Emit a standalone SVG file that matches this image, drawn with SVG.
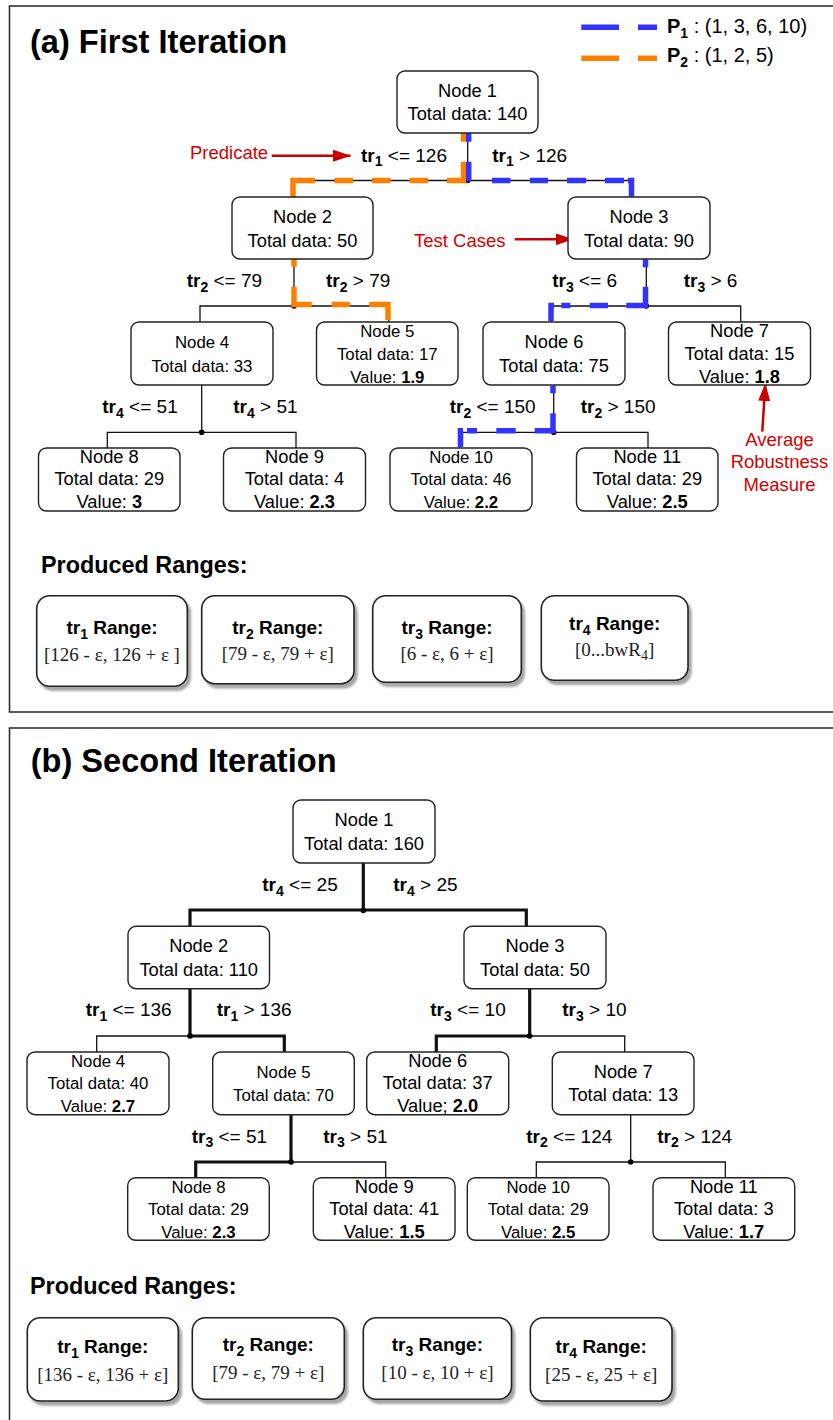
<svg xmlns="http://www.w3.org/2000/svg" width="833" height="1420" viewBox="0 0 833 1420">
  <style>
    .frame { fill: none; stroke: #333; stroke-width: 1.6; }
    .box { fill: #fff; stroke: #222; stroke-width: 1.4; }
    .rbox { fill: #fff; stroke: #222; stroke-width: 1.6; filter: url(#shadow); }
    text { font-family: "Liberation Sans", Arial, Helvetica, sans-serif; fill: #000; }
    .title { font-size: 32.6px; font-weight: bold; }
    .head { font-size: 23.4px; font-weight: bold; }
    .nt { font-size: 18.3px; text-anchor: middle; }
    .sm .nt { font-size: 16.8px; }
    .b { font-weight: bold; }
    .lbl { font-size: 19px; }
    .sub { font-size: 14px; font-weight: bold; }
    .rt { font-size: 19px; font-weight: bold; text-anchor: middle; }
    .rv { font-family: "Liberation Serif", "Times New Roman", serif; font-size: 19px; text-anchor: middle; fill: #222; }
    .rsub { font-size: 14px; }
    .red { font-size: 18.5px; fill: #d40000; }
    .leg { font-size: 20px; }
    .edge { fill: none; stroke: #111; stroke-width: 1.3; }
    .thick { stroke-width: 3.2; }
    .p1 { fill: none; stroke: #3333ff; stroke-width: 5.5; }
    .p2 { fill: none; stroke: #ff8000; stroke-width: 5.5; }
    .dot { fill: #000; }
    .ann { stroke: #c80000; stroke-width: 2.5; fill: none; marker-end: url(#redhead); }
  </style>
  <defs>
    <marker id="redhead" markerUnits="userSpaceOnUse" markerWidth="18" markerHeight="12" refX="17.5" refY="6" orient="auto">
      <path d="M0,0 L18,6 L0,12 z" fill="#c80000"/>
    </marker>
    <filter id="shadow" x="-10%" y="-10%" width="130%" height="135%">
      <feDropShadow dx="3" dy="4" stdDeviation="1.3" flood-color="#000" flood-opacity="0.35"/>
    </filter>
  </defs>

  <rect width="833" height="1420" fill="#fff"/>

  <!-- ===================== (a) First Iteration ===================== -->
  <rect class="frame" x="9.5" y="6" width="840" height="706"/>
  <text class="title" x="30" y="53.3">(a) First Iteration</text>

  <!-- path legend -->
  <g id="legend">
    <path class="p1" stroke-width="6" d="M581.3 27.3 H619 M638 27.3 H657"/>
    <path class="p2" stroke-width="6" d="M581.3 58.3 H619 M638 58.3 H657"/>
    <text class="leg" x="667" y="33"><tspan class="b">P</tspan><tspan class="sub" font-size="15" dy="5">1</tspan><tspan dy="-5"> : (1, 3, 6, 10)</tspan></text>
    <text class="leg" x="667" y="62"><tspan class="b">P</tspan><tspan class="sub" font-size="15" dy="5">2</tspan><tspan dy="-5"> : (1, 2, 5)</tspan></text>
  </g>

  <!-- tree edges -->
  <g id="a-edges">
    <path class="edge" d="M467.7 133 V180.5 M293 196.7 V180.5 H631.3 V196.7"/>
    <path class="edge" d="M294 259.3 V306 M200 322 V306 H388.7 V322"/>
    <path class="edge" d="M646.3 259.3 V306 M551.3 322 V306 H740.7 V322"/>
    <path class="edge" d="M201.7 385 V432.3 M107.3 448 V432.3 H296 V448"/>
    <path class="edge" d="M553.7 385 V432.3 M459.7 448 V432.3 H648 V448"/>
    <circle class="dot" cx="467.7" cy="180.5" r="2.8"/>
    <circle class="dot" cx="294" cy="306" r="2.8"/>
    <circle class="dot" cx="646.3" cy="306" r="2.8"/>
    <circle class="dot" cx="201.7" cy="432.3" r="2.8"/>
    <circle class="dot" cx="553.7" cy="432.3" r="2.8"/>
    <!-- path P2 : nodes 1, 2, 5 -->
    <path class="p2" d="M463.5 133 V141.7 M463.5 161.7 V180.5 H447 M428 180.5 H409.5 M390.5 180.5 H372 M353 180.5 H334.5 M315 180.5 H293 V197"/>
    <path class="p2" d="M294 259.3 V266.7 M294 286.7 V304.6 H311.7 M331.7 304.6 H350 M369.3 304.6 H388 V320"/>
    <!-- path P1 : nodes 1, 3, 6, 10 -->
    <path class="p1" d="M468.7 133 V141.7 M468.7 161.7 V181.5 M492 180.5 H510.5 M530 180.5 H548 M567 180.5 H586 M605 180.5 H624 M628 180.5 H631.5 V196.5"/>
    <path class="p1" d="M645.5 259.3 V267.3 M645.5 286.7 V305.4 H626.3 M608 305.4 H589.7 M570.3 305.4 H561.3 M554 305.4 H551 V321"/>
    <path class="p1" d="M553 386 V393.3 M553 413.3 V430.8 H534.7 M515.7 430.8 H496.3 M477 430.8 H467 M463 430.8 H460.5 V447"/>
  </g>

  <!-- split labels -->
  <g id="a-labels">
    <text class="lbl" x="361" y="161.7"><tspan class="b">tr</tspan><tspan class="sub" dy="4.5">1</tspan><tspan dy="-4.5"> &lt;= 126</tspan></text>
    <text class="lbl" x="492.3" y="161.7"><tspan class="b">tr</tspan><tspan class="sub" dy="4.5">1</tspan><tspan dy="-4.5"> &gt; 126</tspan></text>
    <text class="lbl" x="186.7" y="287.3"><tspan class="b">tr</tspan><tspan class="sub" dy="4.5">2</tspan><tspan dy="-4.5"> &lt;= 79</tspan></text>
    <text class="lbl" x="326" y="287.3"><tspan class="b">tr</tspan><tspan class="sub" dy="4.5">2</tspan><tspan dy="-4.5"> &gt; 79</tspan></text>
    <text class="lbl" x="552.3" y="287.3"><tspan class="b">tr</tspan><tspan class="sub" dy="4.5">3</tspan><tspan dy="-4.5"> &lt;= 6</tspan></text>
    <text class="lbl" x="683.7" y="287.3"><tspan class="b">tr</tspan><tspan class="sub" dy="4.5">3</tspan><tspan dy="-4.5"> &gt; 6</tspan></text>
    <text class="lbl" x="102.3" y="413.3"><tspan class="b">tr</tspan><tspan class="sub" dy="4.5">4</tspan><tspan dy="-4.5"> &lt;= 51</tspan></text>
    <text class="lbl" x="233.3" y="413.3"><tspan class="b">tr</tspan><tspan class="sub" dy="4.5">4</tspan><tspan dy="-4.5"> &gt; 51</tspan></text>
    <text class="lbl" x="449.7" y="413.3"><tspan class="b">tr</tspan><tspan class="sub" dy="4.5">2</tspan><tspan dy="-4.5"> &lt;= 150</tspan></text>
    <text class="lbl" x="580.7" y="413.3"><tspan class="b">tr</tspan><tspan class="sub" dy="4.5">2</tspan><tspan dy="-4.5"> &gt; 150</tspan></text>
  </g>

  <!-- annotations -->
  <g id="a-annotations">
    <text class="red" x="190" y="159">Predicate</text>
    <line class="ann" x1="271.7" y1="155.7" x2="350.5" y2="155.7"/>
    <text class="red" x="414" y="246.5">Test Cases</text>
    <line class="ann" x1="514.7" y1="239.3" x2="573" y2="239.3"/>
    <line class="ann" x1="762.3" y1="431.7" x2="765.3" y2="383.5"/>
    <text class="red" text-anchor="middle" x="779.5" y="445.7">Average</text>
    <text class="red" text-anchor="middle" x="779.5" y="468.3">Robustness</text>
    <text class="red" text-anchor="middle" x="779.5" y="491.3">Measure</text>
  </g>

  <!-- nodes -->
  <g id="a-node1"><rect class="box" x="397" y="71" width="141" height="62" rx="8"/>
    <text class="nt" x="467.5" y="97">Node 1</text><text class="nt" x="467.5" y="120.3">Total data: 140</text></g>
  <g id="a-node2"><rect class="box" x="232" y="197" width="141" height="62" rx="8"/>
    <text class="nt" x="302.5" y="222.6">Node 2</text><text class="nt" x="302.5" y="246.5">Total data: 50</text></g>
  <g id="a-node3"><rect class="box" x="568" y="197" width="142" height="62" rx="8"/>
    <text class="nt" x="639" y="222.6">Node 3</text><text class="nt" x="639" y="246.5">Total data: 90</text></g>
  <g id="a-node4" class="sm"><rect class="box" x="131" y="322" width="142" height="63" rx="8"/>
    <text class="nt" x="202" y="348.3">Node 4</text><text class="nt" x="202" y="371.7">Total data: 33</text></g>
  <g id="a-node5" class="sm"><rect class="box" x="316.5" y="322" width="141.5" height="63" rx="8"/>
    <text class="nt" x="387.3" y="337.3">Node 5</text><text class="nt" x="387.3" y="359.5">Total data: 17</text>
    <text class="nt" x="387.3" y="383">Value: <tspan class="b">1.9</tspan></text></g>
  <g id="a-node6"><rect class="box" x="483" y="322" width="142" height="63" rx="8"/>
    <text class="nt" x="554" y="348.3">Node 6</text><text class="nt" x="554" y="371.7">Total data: 75</text></g>
  <g id="a-node7"><rect class="box" x="668.5" y="322" width="142" height="63" rx="8"/>
    <text class="nt" x="739.5" y="337.3">Node 7</text><text class="nt" x="739.5" y="359.5">Total data: 15</text>
    <text class="nt" x="739.5" y="383">Value: <tspan class="b">1.8</tspan></text></g>
  <g id="a-node8"><rect class="box" x="38.5" y="448" width="141.5" height="63" rx="8"/>
    <text class="nt" x="109.3" y="462.7">Node 8</text><text class="nt" x="109.3" y="484.9">Total data: 29</text>
    <text class="nt" x="109.3" y="508.3">Value: <tspan class="b">3</tspan></text></g>
  <g id="a-node9"><rect class="box" x="223.5" y="448" width="142" height="63" rx="8"/>
    <text class="nt" x="294.5" y="462.7">Node 9</text><text class="nt" x="294.5" y="484.9">Total data: 4</text>
    <text class="nt" x="294.5" y="508.3">Value: <tspan class="b">2.3</tspan></text></g>
  <g id="a-node10" class="sm"><rect class="box" x="390" y="448" width="142" height="63" rx="8"/>
    <text class="nt" x="461" y="462.7">Node 10</text><text class="nt" x="461" y="484.9">Total data: 46</text>
    <text class="nt" x="461" y="508.3">Value: <tspan class="b">2.2</tspan></text></g>
  <g id="a-node11"><rect class="box" x="576.5" y="448" width="141.5" height="63" rx="8"/>
    <text class="nt" x="647.3" y="462.7">Node 11</text><text class="nt" x="647.3" y="484.9">Total data: 29</text>
    <text class="nt" x="647.3" y="508.3">Value: <tspan class="b">2.5</tspan></text></g>

  <!-- produced ranges -->
  <text class="head" x="41" y="573">Produced Ranges:</text>
  <g id="a-range1"><rect class="rbox" x="36.7" y="595.7" width="150.6" height="90.6" rx="13"/>
    <text class="rt" x="112" y="634">tr<tspan class="sub" dy="5">1</tspan><tspan dy="-5"> Range:</tspan></text>
    <text class="rv" x="112" y="661.3">[126 - ε, 126 + ε ]</text></g>
  <g id="a-range2"><rect class="rbox" x="201.7" y="595.7" width="152.3" height="88" rx="13"/>
    <text class="rt" x="277.8" y="634">tr<tspan class="sub" dy="5">2</tspan><tspan dy="-5"> Range:</tspan></text>
    <text class="rv" x="277.8" y="659.7">[79 - ε, 79 + ε]</text></g>
  <g id="a-range3"><rect class="rbox" x="372.7" y="595.7" width="148.6" height="86.6" rx="13"/>
    <text class="rt" x="447" y="634">tr<tspan class="sub" dy="5">3</tspan><tspan dy="-5"> Range:</tspan></text>
    <text class="rv" x="447" y="659.7">[6 - ε, 6 + ε]</text></g>
  <g id="a-range4"><rect class="rbox" x="541.3" y="595.7" width="146.7" height="84.6" rx="13"/>
    <text class="rt" x="614.7" y="629.7">tr<tspan class="sub" dy="5">4</tspan><tspan dy="-5"> Range:</tspan></text>
    <text class="rv" x="614.7" y="656.3">[0...bwR<tspan class="rsub" dy="4">4</tspan><tspan dy="-4">]</tspan></text></g>

  <!-- ===================== (b) Second Iteration ===================== -->
  <rect class="frame" x="9.5" y="728" width="840" height="720"/>
  <text class="title" x="30.7" y="772.3">(b) Second Iteration</text>

  <g id="b-edges">
    <path class="edge thick" d="M363.3 863 V910 M190 926.3 V910 H526.3 V926.3"/>
    <path class="edge thick" d="M190 988.7 V1036 H284.3 V1052"/>
    <path class="edge" d="M96.7 1052 V1036 H190"/>
    <path class="edge thick" d="M529.7 988.7 V1036 H436.3 V1052"/>
    <path class="edge" d="M529.7 1036 H624.7 V1052"/>
    <path class="edge thick" d="M291 1114.7 V1162 H195.7 V1177.7"/>
    <path class="edge" d="M291 1162 H385.7 V1177.7"/>
    <path class="edge" d="M630.7 1114.7 V1162 M536.3 1177.7 V1162 H725.3 V1177.7"/>
    <circle class="dot" cx="363.3" cy="910.5" r="2.8"/>
    <circle class="dot" cx="190" cy="1036" r="2.8"/>
    <circle class="dot" cx="529.7" cy="1036" r="2.8"/>
    <circle class="dot" cx="291" cy="1162" r="2.8"/>
    <circle class="dot" cx="630.7" cy="1162" r="2.8"/>
  </g>

  <g id="b-labels">
    <text class="lbl" x="262.3" y="891.3"><tspan class="b">tr</tspan><tspan class="sub" dy="4.5">4</tspan><tspan dy="-4.5"> &lt;= 25</tspan></text>
    <text class="lbl" x="393.3" y="891.3"><tspan class="b">tr</tspan><tspan class="sub" dy="4.5">4</tspan><tspan dy="-4.5"> &gt; 25</tspan></text>
    <text class="lbl" x="85.7" y="1016"><tspan class="b">tr</tspan><tspan class="sub" dy="4.5">1</tspan><tspan dy="-4.5"> &lt;= 136</tspan></text>
    <text class="lbl" x="216.7" y="1016"><tspan class="b">tr</tspan><tspan class="sub" dy="4.5">1</tspan><tspan dy="-4.5"> &gt; 136</tspan></text>
    <text class="lbl" x="430.3" y="1016"><tspan class="b">tr</tspan><tspan class="sub" dy="4.5">3</tspan><tspan dy="-4.5"> &lt;= 10</tspan></text>
    <text class="lbl" x="562.3" y="1016"><tspan class="b">tr</tspan><tspan class="sub" dy="4.5">3</tspan><tspan dy="-4.5"> &gt; 10</tspan></text>
    <text class="lbl" x="191.7" y="1142.7"><tspan class="b">tr</tspan><tspan class="sub" dy="4.5">3</tspan><tspan dy="-4.5"> &lt;= 51</tspan></text>
    <text class="lbl" x="323.3" y="1142.7"><tspan class="b">tr</tspan><tspan class="sub" dy="4.5">3</tspan><tspan dy="-4.5"> &gt; 51</tspan></text>
    <text class="lbl" x="526.3" y="1142.7"><tspan class="b">tr</tspan><tspan class="sub" dy="4.5">2</tspan><tspan dy="-4.5"> &lt;= 124</tspan></text>
    <text class="lbl" x="657.3" y="1142.7"><tspan class="b">tr</tspan><tspan class="sub" dy="4.5">2</tspan><tspan dy="-4.5"> &gt; 124</tspan></text>
  </g>

  <g id="b-node1"><rect class="box" x="293" y="800" width="142" height="63" rx="8"/>
    <text class="nt" x="364" y="825.7">Node 1</text><text class="nt" x="364" y="849.7">Total data: 160</text></g>
  <g id="b-node2"><rect class="box" x="128" y="926.3" width="141.5" height="62.4" rx="8"/>
    <text class="nt" x="198.7" y="952">Node 2</text><text class="nt" x="198.7" y="976">Total data: 110</text></g>
  <g id="b-node3"><rect class="box" x="464" y="926.3" width="142" height="62.4" rx="8"/>
    <text class="nt" x="535" y="952">Node 3</text><text class="nt" x="535" y="976">Total data: 50</text></g>
  <g id="b-node4" class="sm"><rect class="box" x="27" y="1052" width="142" height="62.7" rx="8"/>
    <text class="nt" x="98" y="1066.7">Node 4</text><text class="nt" x="98" y="1089.3">Total data: 40</text>
    <text class="nt" x="98" y="1112">Value: <tspan class="b">2.7</tspan></text></g>
  <g id="b-node5" class="sm"><rect class="box" x="212.7" y="1052" width="141.6" height="62.7" rx="8"/>
    <text class="nt" x="283.5" y="1077.7">Node 5</text><text class="nt" x="283.5" y="1101">Total data: 70</text></g>
  <g id="b-node6"><rect class="box" x="366.7" y="1052" width="142" height="62.7" rx="8"/>
    <text class="nt" x="437.7" y="1066.7">Node 6</text><text class="nt" x="437.7" y="1089.3">Total data: 37</text>
    <text class="nt" x="437.7" y="1112">Value; <tspan class="b">2.0</tspan></text></g>
  <g id="b-node7"><rect class="box" x="552.3" y="1052" width="141.7" height="62.7" rx="8"/>
    <text class="nt" x="623.2" y="1077.7">Node 7</text><text class="nt" x="623.2" y="1101">Total data: 13</text></g>
  <g id="b-node8" class="sm"><rect class="box" x="127.7" y="1177.7" width="141.6" height="62.6" rx="8"/>
    <text class="nt" x="198.5" y="1192.7">Node 8</text><text class="nt" x="198.5" y="1215.3">Total data: 29</text>
    <text class="nt" x="198.5" y="1237.7">Value: <tspan class="b">2.3</tspan></text></g>
  <g id="b-node9"><rect class="box" x="313.3" y="1177.7" width="141.7" height="62.6" rx="8"/>
    <text class="nt" x="384.2" y="1192.7">Node 9</text><text class="nt" x="384.2" y="1215.3">Total data: 41</text>
    <text class="nt" x="384.2" y="1237.7">Value: <tspan class="b">1.5</tspan></text></g>
  <g id="b-node10" class="sm"><rect class="box" x="467.3" y="1177.7" width="141.7" height="62.6" rx="8"/>
    <text class="nt" x="538.2" y="1192.7">Node 10</text><text class="nt" x="538.2" y="1215.3">Total data: 29</text>
    <text class="nt" x="538.2" y="1237.7">Value: <tspan class="b">2.5</tspan></text></g>
  <g id="b-node11"><rect class="box" x="653" y="1177.7" width="141.7" height="62.6" rx="8"/>
    <text class="nt" x="723.8" y="1192.7">Node 11</text><text class="nt" x="723.8" y="1215.3">Total data: 3</text>
    <text class="nt" x="723.8" y="1237.7">Value: <tspan class="b">1.7</tspan></text></g>

  <text class="head" x="30" y="1294.3">Produced Ranges:</text>
  <g id="b-range1"><rect class="rbox" x="27.3" y="1317.7" width="151" height="83.3" rx="13"/>
    <text class="rt" x="102.8" y="1353.3">tr<tspan class="sub" dy="5">1</tspan><tspan dy="-5"> Range:</tspan></text>
    <text class="rv" x="102.8" y="1381">[136 - ε, 136 + ε]</text></g>
  <g id="b-range2"><rect class="rbox" x="192.3" y="1317.7" width="152" height="81.6" rx="13"/>
    <text class="rt" x="268.3" y="1351">tr<tspan class="sub" dy="5">2</tspan><tspan dy="-5"> Range:</tspan></text>
    <text class="rv" x="268.3" y="1379.3">[79 - ε, 79 + ε]</text></g>
  <g id="b-range3"><rect class="rbox" x="363.3" y="1317.7" width="148.2" height="81.6" rx="13"/>
    <text class="rt" x="437.4" y="1351">tr<tspan class="sub" dy="5">3</tspan><tspan dy="-5"> Range:</tspan></text>
    <text class="rv" x="437.4" y="1379.3">[10 - ε, 10 + ε]</text></g>
  <g id="b-range4"><rect class="rbox" x="530.3" y="1317.7" width="141.7" height="83.3" rx="13"/>
    <text class="rt" x="601.2" y="1353">tr<tspan class="sub" dy="5">4</tspan><tspan dy="-5"> Range:</tspan></text>
    <text class="rv" x="601.2" y="1381">[25 - ε, 25 + ε]</text></g>
</svg>
